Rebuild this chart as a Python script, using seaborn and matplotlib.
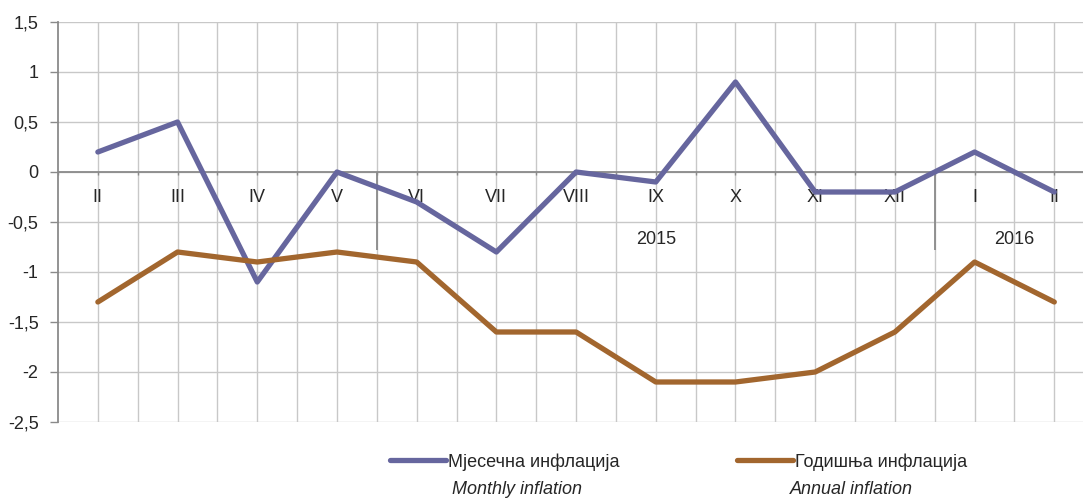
import pandas as pd
import matplotlib.pyplot as plt
import seaborn as sns
import numpy as np

# подаци
months = ['II', 'III', 'IV', 'V', 'VI', 'VII', 'VIII', 'IX', 'X', 'XI', 'XII', 'I', 'II']
monthly = [0.2, 0.5, -1.1, 0.0, -0.3, -0.8, 0.0, -0.1, 0.9, -0.2, -0.2, 0.2, -0.2]
annual = [-1.3, -0.8, -0.9, -0.8, -0.9, -1.6, -1.6, -2.1, -2.1, -2.0, -1.6, -0.9, -1.3]
series_names = ['Мјесечна инфлација', 'Годишња инфлација']
series_names_en = ['Monthly inflation', 'Annual inflation']
years = ['2015', '2016']
year_pos = [7.0, 11.5]
year_breaks = [3.5, 10.5]
colors = ['#66669E', '#A2662E']

sns.set_style('white')
plt.rcParams['font.family'] = ['Liberation Sans', 'DejaVu Sans']
FS = 13

df = pd.DataFrame({
    'idx': list(range(len(months))) * 2,
    'value': monthly + annual,
    'series': [series_names[0]] * len(months) + [series_names[1]] * len(months),
})

fig = plt.figure(figsize=(10.83, 4.99), dpi=100)
ax = fig.add_axes([58 / 1083, 77 / 499, 1 - 58 / 1083, 400 / 499])

grid_c = '#c8c8c8'
axis_c = '#8a8a8a'

# мрежа
for x in np.arange(0, 12.6, 0.5):
    ax.axvline(x, color=grid_c, lw=1.0, zorder=0)
for y in np.arange(-2.5, 1.51, 0.5):
    ax.axhline(y, color=grid_c, lw=1.0, zorder=0)
ax.axhline(0, color=axis_c, lw=1.3, zorder=1)
ax.vlines(np.arange(-0.5, 12.6, 0.5), -0.03, 0, color=axis_c, lw=1.0, zorder=1)
ax.vlines(year_breaks, -0.78, 0, color=axis_c, lw=1.3, zorder=1)

sns.lineplot(data=df, x='idx', y='value', hue='series', palette=colors,
             linewidth=3.8, ax=ax, legend=False, zorder=3)

ax.set_xlim(-0.5, 12.36)
ax.set_ylim(-2.5, 1.5)
ax.set_yticks(np.arange(-2.5, 1.51, 0.5))
ax.set_yticklabels([f'{v:g}'.replace('.', ',') for v in np.arange(-2.5, 1.51, 0.5)], fontsize=FS)
ax.set_xticks([])
ax.set_xlabel('')
ax.set_ylabel('')
for side in ['top', 'right', 'bottom']:
    ax.spines[side].set_visible(False)
ax.spines['left'].set_color(axis_c)
ax.spines['left'].set_linewidth(1.3)
ax.tick_params(axis='y', left=True, length=6, color=axis_c, width=1.0, pad=8)

for i, m in enumerate(months):
    ax.text(i, -0.25, m, ha='center', va='center', fontsize=FS, zorder=2)
for yr, xp in zip(years, year_pos):
    ax.text(xp, -0.68, yr, ha='center', va='center', fontsize=FS, zorder=2)

# легенда
handles = [plt.Line2D([], [], color=c, lw=3.8, solid_capstyle='round') for c in colors]
fig.legend(handles, series_names, loc='center left', bbox_to_anchor=(390 / 1083, 1 - 462 / 499),
           ncol=2, frameon=False, fontsize=FS, handlelength=3.1, handletextpad=0.12,
           columnspacing=6.5, borderaxespad=0, borderpad=0)
fig.text(452 / 1083, 1 - 490 / 499, series_names_en[0], fontsize=FS, style='italic', va='center')
fig.text(790 / 1083, 1 - 490 / 499, series_names_en[1], fontsize=FS, style='italic', va='center')

fig.savefig('out.png', dpi=100)
